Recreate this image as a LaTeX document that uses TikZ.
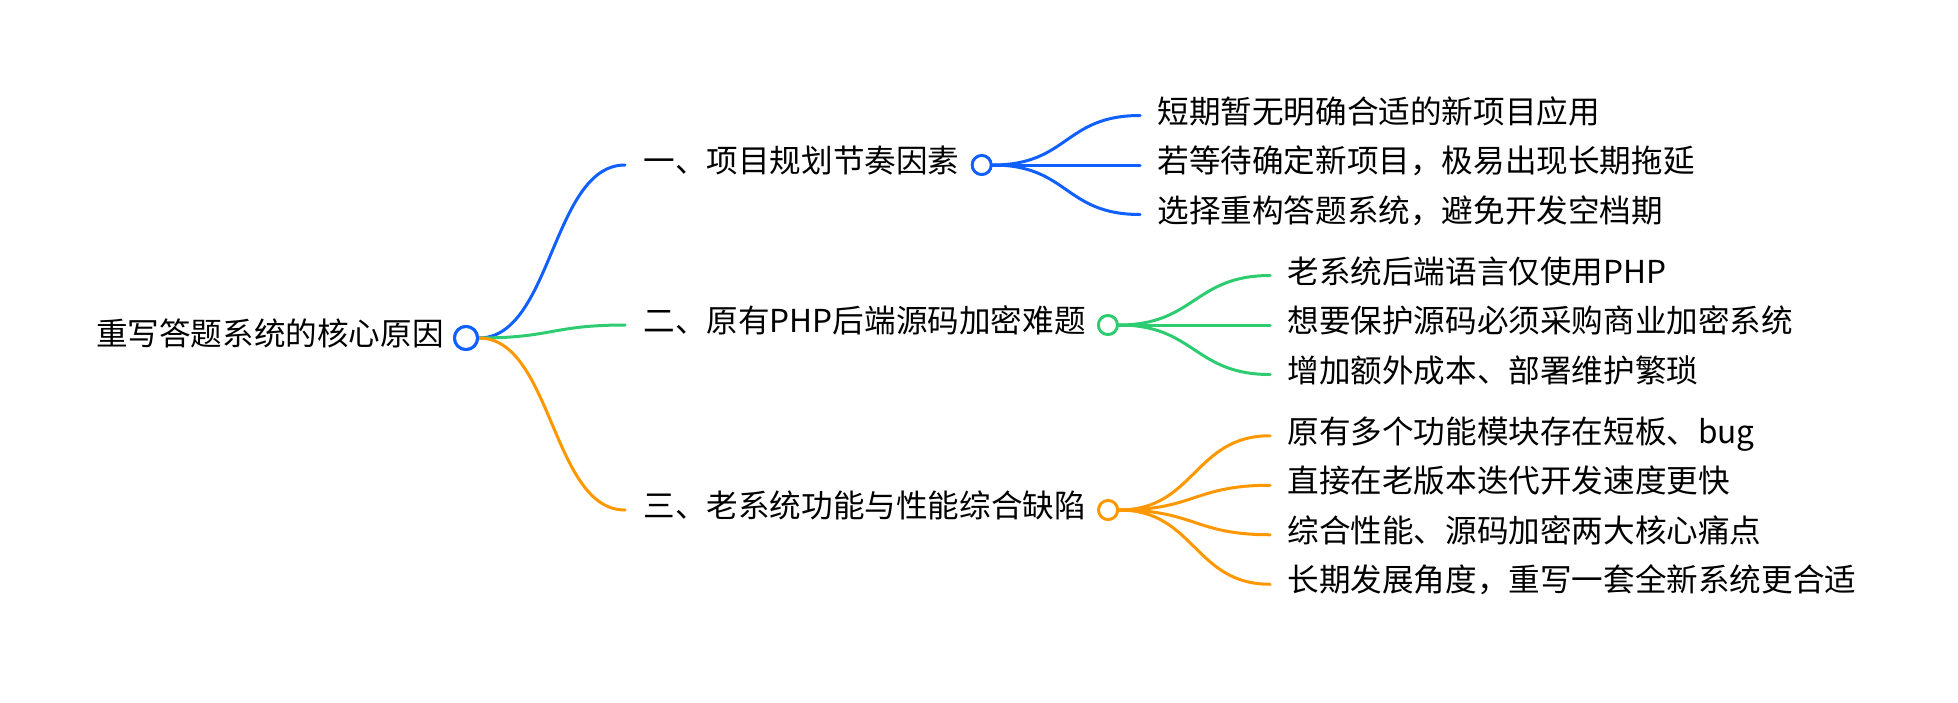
\documentclass[tikz,border=0pt]{standalone}
\usepackage{fontspec}
\setmainfont{Noto Sans CJK SC}
\usetikzlibrary{positioning}
\definecolor{mapblue}{RGB}{16,96,255}
\definecolor{mapgreen}{RGB}{46,204,113}
\definecolor{maporange}{RGB}{255,152,0}
\tikzset{
  topic/.style={inner xsep=0pt, inner ysep=0pt, text height=0.8em, text depth=0.05em,
    font=\fontsize{15.8}{19}\selectfont},
  rootdot/.style={circle, draw=#1, fill=white, line width=1.5pt, inner sep=0pt, minimum size=11.5pt},
  subdot/.style={circle, draw=#1, fill=white, line width=1.4pt, inner sep=0pt, minimum size=9.5pt},
  link/.style={line width=1.5pt, line cap=round}
}
\begin{document}
\begin{tikzpicture}[x=0.5pt, y=-0.5pt]
    \useasboundingbox (0,0) rectangle (1958,702);
    % root
    \node[rootdot=mapblue] (core) at (466,338) {};
    \node[topic, left=4.5pt of core] (coretxt) {重写答题系统的核心原因};

    % first level
    \coordinate (b1in) at (625,165);
    \coordinate (b2in) at (625,325);
    \coordinate (b3in) at (625,510);
    \node[topic, right=9pt of b1in] (b1) {一、项目规划节奏因素};
    \node[topic, right=9pt of b2in] (b2) {二、原有PHP后端源码加密难题};
    \node[topic, right=9pt of b3in] (b3) {三、老系统功能与性能综合缺陷};

    \draw[link, mapblue] (core.east) .. controls +(73,0) and +(-73,0) .. (b1in);
    \draw[link, mapgreen] (core.east) .. controls +(73,0) and +(-73,0) .. (b2in);
    \draw[link, maporange] (core.east) .. controls +(73,0) and +(-73,0) .. (b3in);
    \node[rootdot=mapblue] at (core) {};

    \node[subdot=mapblue, right=5.5pt of b1] (b1dot) {};
    \node[subdot=mapgreen, right=5.5pt of b2] (b2dot) {};
    \node[subdot=maporange, right=5.5pt of b3] (b3dot) {};

    % leaves of the first topic
    \coordinate (l11) at (1140,115.5);
    \coordinate (l12) at (1140,165);
    \coordinate (l13) at (1140,214.5);
    \node[topic, right=8.5pt of l11] (t11) {短期暂无明确合适的新项目应用};
    \node[topic, right=8.5pt of l12] (t12) {若等待确定新项目，极易出现长期拖延};
    \node[topic, right=8.5pt of l13] (t13) {选择重构答题系统，避免开发空档期};
    \foreach \l in {l11,l12,l13}
        \draw[link, mapblue] (b1dot.east) .. controls +(76,0) and +(-76,0) .. (\l);

    % leaves of the second topic
    \coordinate (l21) at (1270,275.5);
    \coordinate (l22) at (1270,325);
    \coordinate (l23) at (1270,374.5);
    \node[topic, right=8.5pt of l21] (t21) {老系统后端语言仅使用PHP};
    \node[topic, right=8.5pt of l22] (t22) {想要保护源码必须采购商业加密系统};
    \node[topic, right=8.5pt of l23] (t23) {增加额外成本、部署维护繁琐};
    \foreach \l in {l21,l22,l23}
        \draw[link, mapgreen] (b2dot.east) .. controls +(76,0) and +(-76,0) .. (\l);

    % leaves of the third topic
    \coordinate (l31) at (1270,435.75);
    \coordinate (l32) at (1270,485.25);
    \coordinate (l33) at (1270,534.75);
    \coordinate (l34) at (1270,584.25);
    \node[topic, right=8.5pt of l31] (t31) {原有多个功能模块存在短板、bug};
    \node[topic, right=8.5pt of l32] (t32) {直接在老版本迭代开发速度更快};
    \node[topic, right=8.5pt of l33] (t33) {综合性能、源码加密两大核心痛点};
    \node[topic, right=8.5pt of l34] (t34) {长期发展角度，重写一套全新系统更合适};
    \foreach \l in {l31,l32,l33,l34}
        \draw[link, maporange] (b3dot.east) .. controls +(76,0) and +(-76,0) .. (\l);

    \node[subdot=mapblue] at (b1dot) {};
    \node[subdot=mapgreen] at (b2dot) {};
    \node[subdot=maporange] at (b3dot) {};
\end{tikzpicture}
\end{document}
